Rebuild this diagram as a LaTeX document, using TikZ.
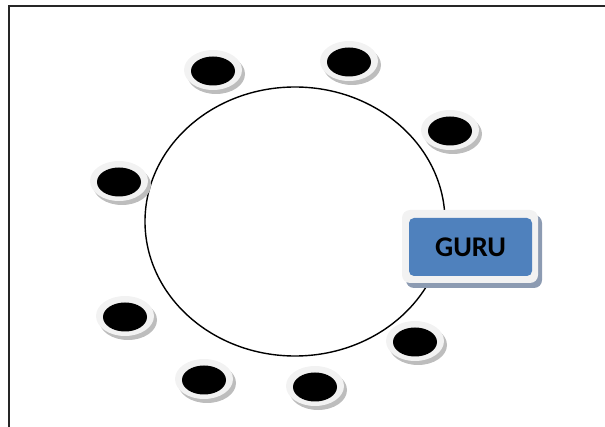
\documentclass[tikz,border=0pt]{standalone}
\usepackage{fontspec}
\usetikzlibrary{shapes.geometric}
\newfontfamily\guru{Carlito}
\definecolor{ring}{HTML}{F2F2F2}
\definecolor{shad}{HTML}{BDBDBD}
\definecolor{boxblue}{HTML}{4F81BD}
\definecolor{boxshad}{HTML}{8C9BB2}
\begin{document}
\begin{tikzpicture}[x=1pt,y=-1pt,
  disc/.pic={
    \fill[shad] (3,4) ellipse [x radius=29,y radius=20];
    \fill[ring] (0,0) ellipse [x radius=29,y radius=20];
    \fill[black] (0,1) ellipse [x radius=22,y radius=14.5];
  }]
\useasboundingbox (0,0) rectangle (605,427);
% frame
\draw[line width=2pt,black!85] (605,6.5) -- (8.7,6.5) -- (8.7,427);
% circle
\node[draw,line width=1.4pt,ellipse,minimum width=300,minimum height=269,inner sep=0] (ring) at (295,221.5) {};
% discs
\coordinate (d1) at (213,70);
\coordinate (d2) at (349,61);
\coordinate (d3) at (450,130);
\coordinate (d4) at (119,181);
\coordinate (d5) at (125,316);
\coordinate (d6) at (204,379);
\coordinate (d7) at (315,386);
\coordinate (d8) at (415,341);
\foreach \d in {d1,d2,d3,d4,d5,d6,d7,d8} \pic at (\d) {disc};
% GURU box
\fill[boxshad,rounded corners=8] (406,215) rectangle (542,288);
\fill[ring,rounded corners=8] (402,210) rectangle (538,283);
\node[fill=boxblue,rounded corners=5,minimum width=123,minimum height=58,inner sep=0,
  font=\guru\bfseries\fontsize{28.5}{30}\selectfont] (guru) at (470.5,247) {\raisebox{-3pt}{GURU}};
\end{tikzpicture}
\end{document}
